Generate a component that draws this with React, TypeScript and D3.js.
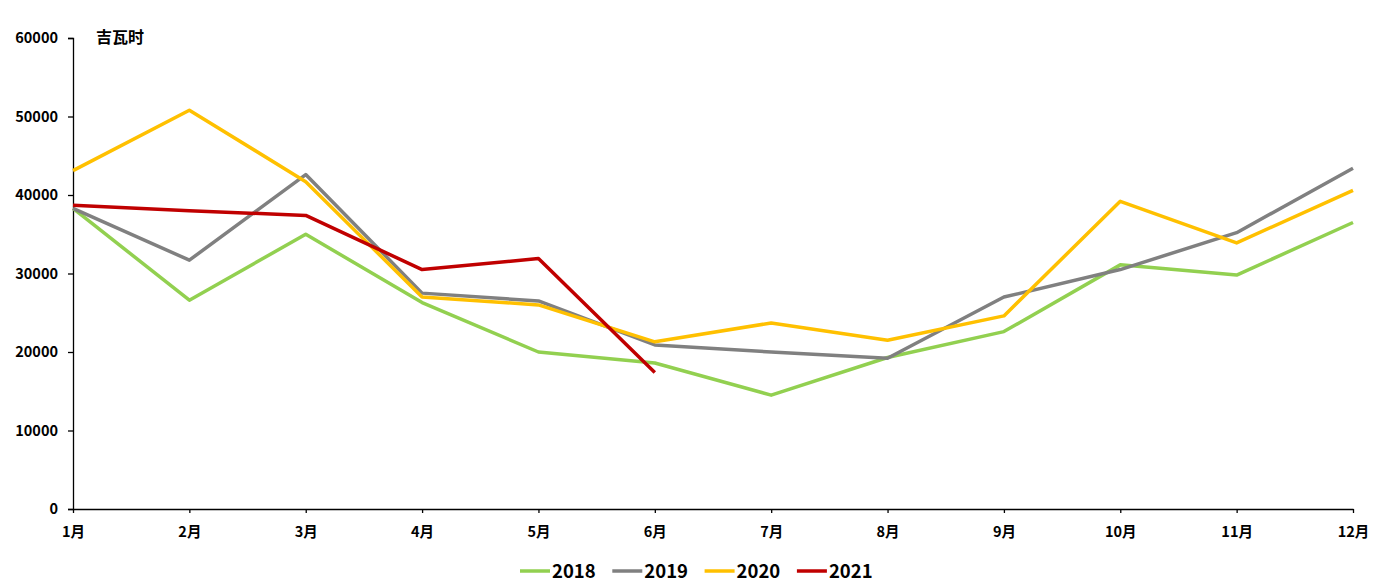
import * as d3 from "d3";
import { useRef, useEffect } from "react";

const months = ["1月", "2月", "3月", "4月", "5月", "6月", "7月", "8月", "9月", "10月", "11月", "12月"];
const yTicks = [0, 10000, 20000, 30000, 40000, 50000, 60000];

const s2018 = [38300, 26600, 35000, 26300, 20000, 18600, 14500, 19300, 22600, 31100, 29800, 36500];
const s2019 = [38300, 31700, 42600, 27500, 26500, 20900, 20000, 19200, 27000, 30500, 35200, 43400];
const s2020 = [43100, 50800, 41700, 27000, 26000, 21300, 23700, 21500, 24600, 39200, 33900, 40600];
const s2021 = [38700, 38000, 37400, 30500, 31900, 17400];

const series = [
  { name: "2018", color: "#92D050", values: s2018 },
  { name: "2019", color: "#808080", values: s2019 },
  { name: "2020", color: "#FFC000", values: s2020 },
  { name: "2021", color: "#C00000", values: s2021 },
];

const W = 1397;
const H = 587;
const font = "'Noto Sans CJK SC', 'Noto Sans', sans-serif";

function LineChart() {
  const ref = useRef<SVGSVGElement>(null);

  useEffect(() => {
    draw();
  }, []);

  const draw = () => {
    const svg = d3.select(ref.current).attr("width", W).attr("height", H);
    svg.selectAll("*").remove();

    const x = d3.scalePoint<string>().domain(months).range([73, 1353]);
    const y = d3.scaleLinear().domain([0, 60000]).range([509, 38]);

    // y axis
    const yAxis = svg
      .append("g")
      .attr("transform", "translate(73,0)")
      .call(d3.axisLeft(y).tickValues(yTicks).tickSize(5).tickPadding(10).tickFormat(d3.format("d")));
    yAxis.select(".domain").attr("stroke", "#000").attr("stroke-width", 1.3);
    yAxis.selectAll(".tick line").attr("stroke", "#000").attr("stroke-width", 1.3);
    yAxis
      .selectAll("text")
      .attr("font-family", font)
      .attr("font-size", 14.5)
      .attr("font-weight", "bold")
      .attr("fill", "#000");

    // x axis
    const xAxis = svg
      .append("g")
      .attr("transform", "translate(0,509)")
      .call(d3.axisBottom(x).tickSize(4).tickPadding(14).tickSizeOuter(0));
    xAxis.select(".domain").attr("stroke", "#000").attr("stroke-width", 1.3);
    xAxis.selectAll(".tick line").attr("stroke", "#000").attr("stroke-width", 1.3);
    xAxis
      .selectAll("text")
      .attr("font-family", font)
      .attr("font-size", 14.5)
      .attr("font-weight", "bold")
      .attr("fill", "#000");

    // unit label
    svg
      .append("text")
      .attr("x", 96)
      .attr("y", 43)
      .text("吉瓦时")
      .attr("font-family", font)
      .attr("font-size", 16)
      .attr("font-weight", "bold")
      .attr("fill", "#000");

    const line = d3
      .line<number>()
      .x((d, i) => x(months[i]) as number)
      .y((d) => y(d));

    svg
      .selectAll("path.series")
      .data(series)
      .join("path")
      .attr("class", "series")
      .attr("d", (d) => line(d.values))
      .attr("fill", "none")
      .attr("stroke", (d) => d.color)
      .attr("stroke-width", 3.5)
      .attr("stroke-linejoin", "round");

    // legend
    const legend = svg
      .selectAll("g.legend")
      .data(series)
      .join("g")
      .attr("class", "legend")
      .attr("transform", (d, i) => `translate(${520 + i * 92.3},571)`);
    legend
      .append("line")
      .attr("x1", 0)
      .attr("x2", 30)
      .attr("stroke", (d) => d.color)
      .attr("stroke-width", 3.5);
    legend
      .append("text")
      .attr("x", 32)
      .attr("y", 6.5)
      .text((d) => d.name)
      .attr("font-family", font)
      .attr("font-size", 18.5)
      .attr("font-weight", "bold")
      .attr("fill", "#000");
  };

  return <svg ref={ref} style={{ position: "absolute", left: 0, top: 0 }}></svg>;
}

export default function App() {
  return <LineChart />;
}
